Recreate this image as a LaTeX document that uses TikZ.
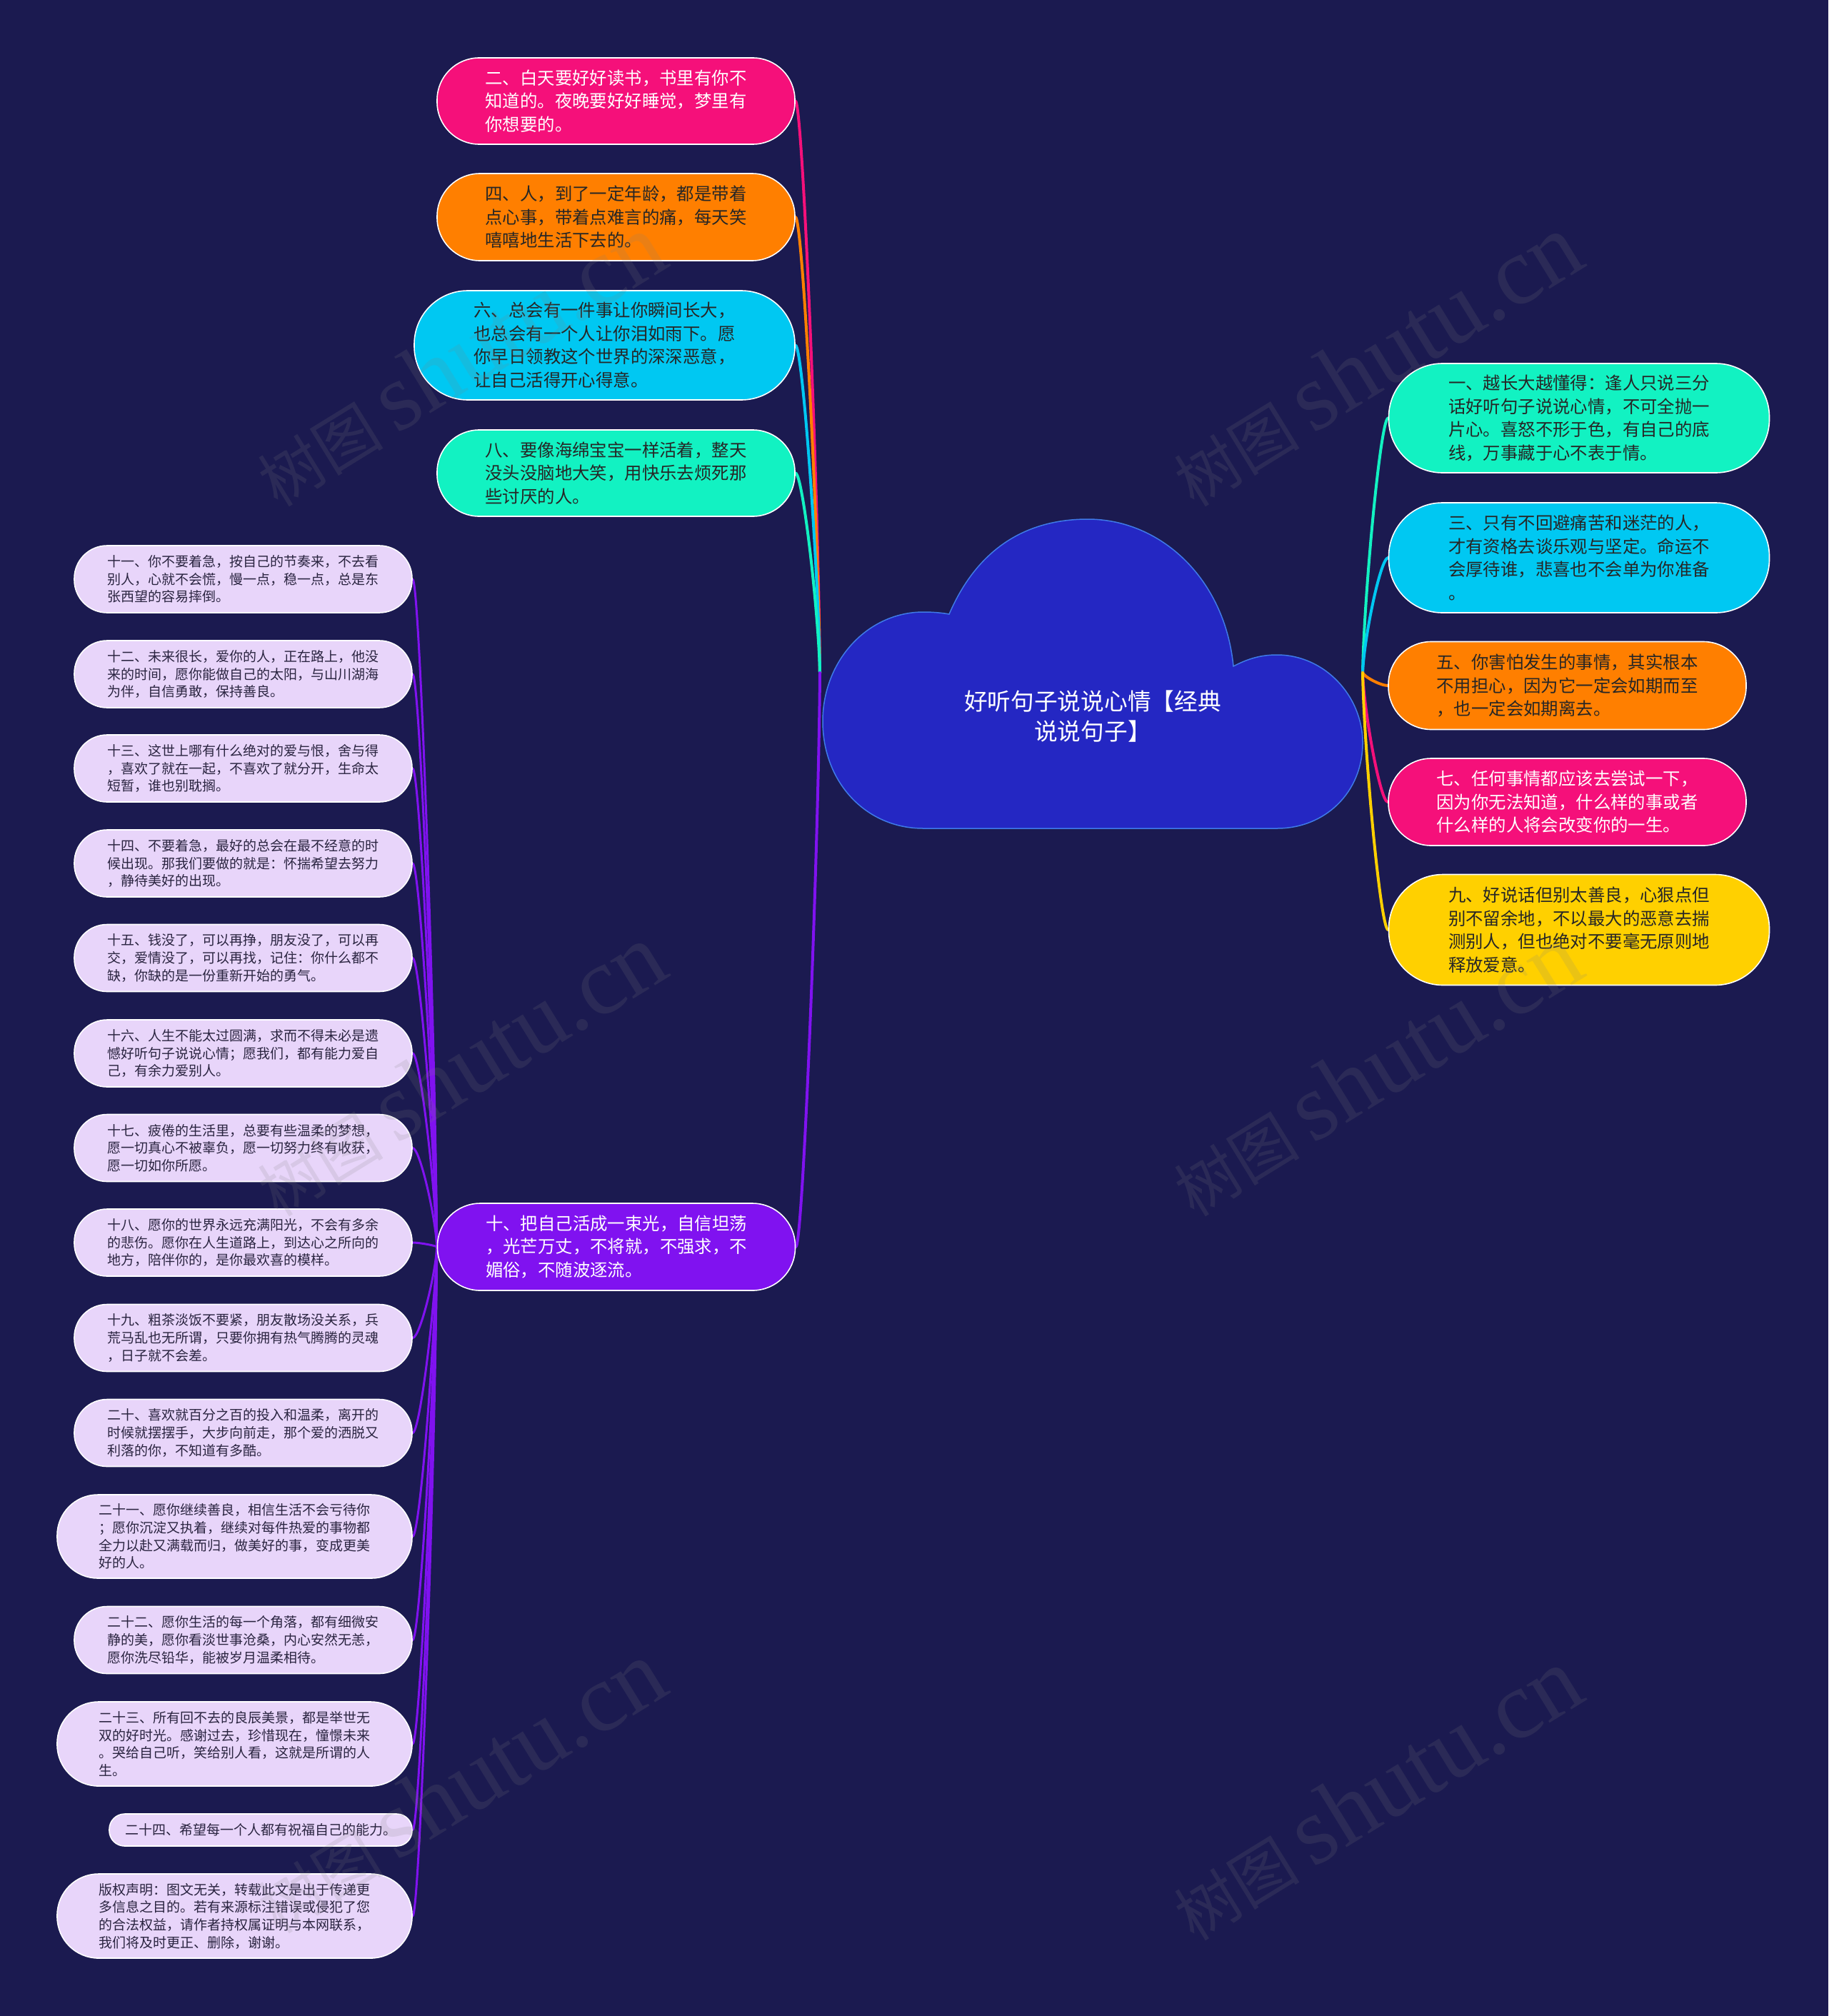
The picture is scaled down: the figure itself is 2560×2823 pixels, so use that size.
\documentclass[tikz,border=0pt]{standalone}
\usepackage{fontspec}
\setmainfont{Noto Sans CJK SC}
\newfontfamily\wmlatin{Liberation Serif}
\usetikzlibrary{calc}
\pgfdeclarelayer{back}
\pgfdeclarelayer{links}
\pgfsetlayers{back,links,main}
\definecolor{bgc}{HTML}{1B1A50}
\definecolor{cloudfill}{HTML}{2427C3}
\definecolor{clouddraw}{HTML}{3F7AE8}
\definecolor{cpink}{HTML}{F5107A}
\definecolor{corange}{HTML}{FF7F00}
\definecolor{ccyan}{HTML}{00C8F2}
\definecolor{caqua}{HTML}{12F2C2}
\definecolor{cyellow}{HTML}{FFD000}
\definecolor{cpurple}{HTML}{8012F0}
\definecolor{clav}{HTML}{E8D5FA}
\definecolor{darktext}{HTML}{262626}
\definecolor{lavtext}{HTML}{2A2440}
\tikzset{
  pill/.style={rectangle, draw=white, line width=1.6pt, inner sep=0pt, align=left},
  bigtext/.style={font=\fontsize{24.4pt}{32.5pt}\selectfont},
  smalltext/.style={font=\fontsize{19pt}{24.7pt}\selectfont, text=lavtext, fill=clav},
  link/.style={line width=4pt, line cap=round},
  sublink/.style={line width=3pt, line cap=round, draw=cpurple},
  wm/.style={text=gray, opacity=0.16, font=\fontsize{88pt}{88pt}\selectfont, rotate=31.6},
}
\newcommand\wmtext{树图 {\wmlatin\fontsize{135pt}{135pt}\selectfont shutu.cn}}
\newcommand\mmlink[3]{\draw[#1] let \p1=(#2), \p2=(#3) in (\p1) .. controls ({\x1+0.05*(\x2-\x1)},{\y1+0.3*(\y2-\y1)}) and ({\x2-0.3*(\x2-\x1)},{\y2}) .. (\p2);}
\begin{document}
\begin{tikzpicture}[x=1pt,y=-1pt]
\begin{pgfonlayer}{back}
\fill[bgc] (0,0) rectangle (2560,2823);
\end{pgfonlayer}
\useasboundingbox (0,0) rectangle (2560,2823);

% central cloud
\draw[fill=cloudfill, draw=clouddraw, line width=1.5pt]
  (1329,860) .. controls (1370,765) and (1440,727) .. (1523,727)
  .. controls (1625,727) and (1715,810) .. (1727,933)
  .. controls (1748,922) and (1766,917) .. (1788,917)
  .. controls (1855,917) and (1908,975) .. (1908,1040)
  .. controls (1908,1110) and (1855,1160) .. (1788,1160)
  -- (1293,1160)
  .. controls (1212,1160) and (1152,1095) .. (1152,1010)
  .. controls (1152,925) and (1215,857) .. (1293,857)
  .. controls (1306,857) and (1318,858) .. (1329,860) -- cycle;
\node[font=\fontsize{32.7pt}{42pt}\selectfont, text=white, align=center] (title) at (1530,1003) {好听句子说说心情【经典\\说说句子】};
\coordinate (rootL) at (1148,942);
\coordinate (rootR) at (1908,942);

% upper left branches
\node[pill, bigtext, fill=cpink, text=white, minimum width=501pt, minimum height=121pt, rounded corners=59pt] (n2) at (862.5,141.5) {二、白天要好好读书，书里有你不\\知道的。夜晚要好好睡觉，梦里有\\你想要的。};
\node[pill, bigtext, fill=corange, text=darktext, minimum width=501pt, minimum height=122pt, rounded corners=60pt] (n4) at (862.5,304) {四、人，到了一定年龄，都是带着\\点心事，带着点难言的痛，每天笑\\嘻嘻地生活下去的。};
\node[pill, bigtext, fill=ccyan, text=darktext, minimum width=533pt, minimum height=153pt, rounded corners=75pt] (n6) at (846.5,483.5) {六、总会有一件事让你瞬间长大，\\也总会有一个人让你泪如雨下。愿\\你早日领教这个世界的深深恶意，\\让自己活得开心得意。};
\node[pill, bigtext, fill=caqua, text=darktext, minimum width=501pt, minimum height=121pt, rounded corners=59pt] (n8) at (862.5,662.5) {八、要像海绵宝宝一样活着，整天\\没头没脑地大笑，用快乐去烦死那\\些讨厌的人。};
\node[pill, bigtext, fill=cpurple, text=white, minimum width=501pt, minimum height=122pt, rounded corners=60pt] (n10) at (863,1746) {十、把自己活成一束光，自信坦荡\\，光芒万丈，不将就，不强求，不\\媚俗，不随波逐流。};

% right branches
\node[pill, bigtext, fill=caqua, text=darktext, minimum width=533pt, minimum height=153pt, rounded corners=75pt] (n1) at (2211,585.5) {一、越长大越懂得：逢人只说三分\\话好听句子说说心情，不可全抛一\\片心。喜怒不形于色，有自己的底\\线，万事藏于心不表于情。};
\node[pill, bigtext, fill=ccyan, text=darktext, minimum width=533pt, minimum height=154pt, rounded corners=75pt] (n3) at (2211,781) {三、只有不回避痛苦和迷茫的人，\\才有资格去谈乐观与坚定。命运不\\会厚待谁，悲喜也不会单为你准备\\。};
\node[pill, bigtext, fill=corange, text=darktext, minimum width=501pt, minimum height=123pt, rounded corners=60pt] (n5) at (2194.5,960) {五、你害怕发生的事情，其实根本\\不用担心，因为它一定会如期而至\\，也一定会如期离去。};
\node[pill, bigtext, fill=cpink, text=white, minimum width=501pt, minimum height=122pt, rounded corners=60pt] (n7) at (2194.5,1123) {七、任何事情都应该去尝试一下，\\因为你无法知道，什么样的事或者\\什么样的人将会改变你的一生。};
\node[pill, bigtext, fill=cyellow, text=darktext, minimum width=533pt, minimum height=155pt, rounded corners=76pt] (n9) at (2211,1302) {九、好说话但别太善良，心狠点但\\别不留余地，不以最大的恶意去揣\\测别人，但也绝对不要毫无原则地\\释放爱意。};

% left column
\node[pill, smalltext, minimum width=473pt, minimum height=94pt, rounded corners=46pt] (n11) at (340.5,811) {十一、你不要着急，按自己的节奏来，不去看\\别人，心就不会慌，慢一点，稳一点，总是东\\张西望的容易摔倒。};
\node[pill, smalltext, minimum width=473pt, minimum height=94pt, rounded corners=46pt] (n12) at (340.5,944) {十二、未来很长，爱你的人，正在路上，他没\\来的时间，愿你能做自己的太阳，与山川湖海\\为伴，自信勇敢，保持善良。};
\node[pill, smalltext, minimum width=473pt, minimum height=94pt, rounded corners=46pt] (n13) at (340.5,1076) {十三、这世上哪有什么绝对的爱与恨，舍与得\\，喜欢了就在一起，不喜欢了就分开，生命太\\短暂，谁也别耽搁。};
\node[pill, smalltext, minimum width=473pt, minimum height=94pt, rounded corners=46pt] (n14) at (340.5,1209) {十四、不要着急，最好的总会在最不经意的时\\候出现。那我们要做的就是：怀揣希望去努力\\，静待美好的出现。};
\node[pill, smalltext, minimum width=473pt, minimum height=94pt, rounded corners=46pt] (n15) at (340.5,1341.5) {十五、钱没了，可以再挣，朋友没了，可以再\\交，爱情没了，可以再找，记住：你什么都不\\缺，你缺的是一份重新开始的勇气。};
\node[pill, smalltext, minimum width=473pt, minimum height=94pt, rounded corners=46pt] (n16) at (340.5,1475) {十六、人生不能太过圆满，求而不得未必是遗\\憾好听句子说说心情；愿我们，都有能力爱自\\己，有余力爱别人。};
\node[pill, smalltext, minimum width=473pt, minimum height=94pt, rounded corners=46pt] (n17) at (340.5,1607.5) {十七、疲倦的生活里，总要有些温柔的梦想，\\愿一切真心不被辜负，愿一切努力终有收获，\\愿一切如你所愿。};
\node[pill, smalltext, minimum width=473pt, minimum height=94pt, rounded corners=46pt] (n18) at (340.5,1740) {十八、愿你的世界永远充满阳光，不会有多余\\的悲伤。愿你在人生道路上，到达心之所向的\\地方，陪伴你的，是你最欢喜的模样。};
\node[pill, smalltext, minimum width=473pt, minimum height=94pt, rounded corners=46pt] (n19) at (340.5,1873.5) {十九、粗茶淡饭不要紧，朋友散场没关系，兵\\荒马乱也无所谓，只要你拥有热气腾腾的灵魂\\，日子就不会差。};
\node[pill, smalltext, minimum width=473pt, minimum height=94pt, rounded corners=46pt] (n20) at (340.5,2006.5) {二十、喜欢就百分之百的投入和温柔，离开的\\时候就摆摆手，大步向前走，那个爱的洒脱又\\利落的你，不知道有多酷。};
\node[pill, smalltext, minimum width=497pt, minimum height=117pt, rounded corners=57pt] (n21) at (328.5,2151.5) {二十一、愿你继续善良，相信生活不会亏待你\\；愿你沉淀又执着，继续对每件热爱的事物都\\全力以赴又满载而归，做美好的事，变成更美\\好的人。};
\node[pill, smalltext, minimum width=473pt, minimum height=94pt, rounded corners=46pt] (n22) at (340.5,2296.5) {二十二、愿你生活的每一个角落，都有细微安\\静的美，愿你看淡世事沧桑，内心安然无恙，\\愿你洗尽铅华，能被岁月温柔相待。};
\node[pill, smalltext, minimum width=497pt, minimum height=118pt, rounded corners=58pt] (n23) at (328.5,2442) {二十三、所有回不去的良辰美景，都是举世无\\双的好时光。感谢过去，珍惜现在，憧憬未来\\。哭给自己听，笑给别人看，这就是所谓的人\\生。};
\node[pill, smalltext, minimum width=424pt, minimum height=45pt, rounded corners=21.5pt] (n24) at (365,2562.5) {二十四、希望每一个人都有祝福自己的能力。};
\node[pill, smalltext, minimum width=497pt, minimum height=118pt, rounded corners=58pt] (ncopy) at (328.5,2683) {版权声明：图文无关，转载此文是出于传递更\\多信息之目的。若有来源标注错误或侵犯了您\\的合法权益，请作者持权属证明与本网联系，\\我们将及时更正、删除，谢谢。};

% connectors
\begin{pgfonlayer}{links}
\mmlink{link,cpink}{rootL}{n2.east}
\mmlink{link,corange}{rootL}{n4.east}
\mmlink{link,ccyan}{rootL}{n6.east}
\mmlink{link,caqua}{rootL}{n8.east}
\mmlink{link,cpurple}{rootL}{n10.east}
\mmlink{link,caqua}{rootR}{n1.west}
\mmlink{link,ccyan}{rootR}{n3.west}
\mmlink{link,corange}{rootR}{n5.west}
\mmlink{link,cpink}{rootR}{n7.west}
\mmlink{link,cyellow}{rootR}{n9.west}
\foreach \c in {n11,n12,n13,n14,n15,n16,n17,n18,n19,n20,n21,n22,n23,n24,ncopy}{
  \mmlink{sublink}{n10.west}{\c.east}
}
\end{pgfonlayer}

% watermarks
\node[wm] (wm1) at (643,504) {\wmtext};
\node[wm] (wm2) at (1926,504) {\wmtext};
\node[wm] (wm3) at (643,1498) {\wmtext};
\node[wm] (wm4) at (1926,1498) {\wmtext};
\node[wm] (wm5) at (643,2502) {\wmtext};
\node[wm] (wm6) at (1926,2512) {\wmtext};
\end{tikzpicture}
\end{document}
